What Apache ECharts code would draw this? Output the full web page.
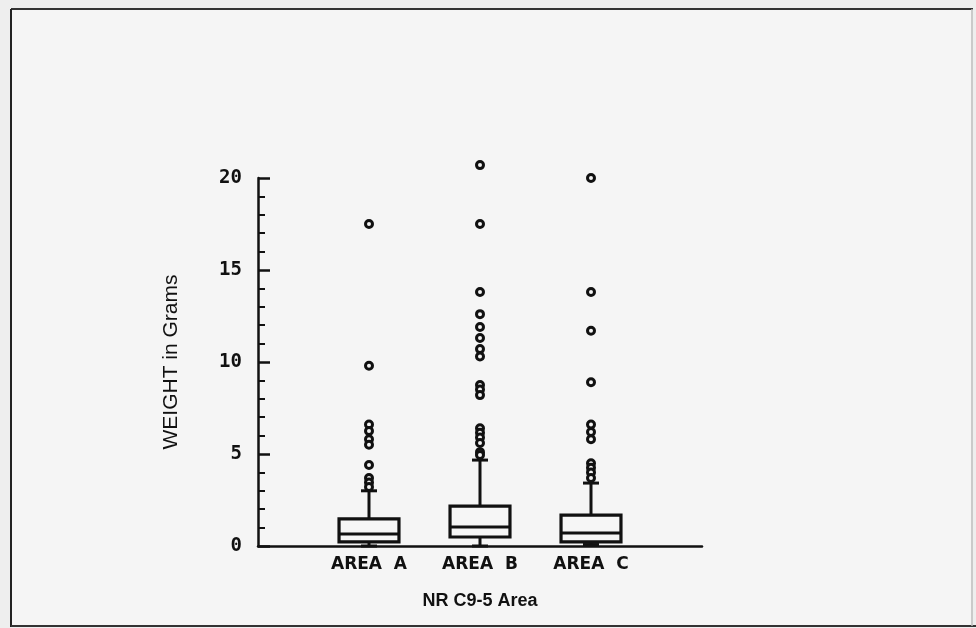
<!DOCTYPE html>
<html>
<head>
    <meta charset="UTF-8">
    <title>NR C9-5 Area weight</title>
    <script type="text/javascript" src="https://cdn.jsdelivr.net/npm/echarts@6/dist/echarts.min.js"></script>
</head>
<body style="margin: 0; background-color: #eeeeee;">
  <div id="main" style="width: 976px; height: 628px;"></div>

  <script>
    // categories (blank slots at both ends keep the boxes at 1, 2, 3 on a 0..4 axis)
    var categories = ['', 'AREA  A', 'AREA  B', 'AREA  C', ''];

    // box stats: [category index, low whisker, Q1, median, Q3, high whisker]
    var boxA = [1, 0, 0.22, 0.65, 1.47, 3.0];
    var boxB = [2, 0, 0.49, 1.03, 2.17, 4.67];
    var boxC = [3, 0.08, 0.22, 0.71, 1.68, 3.42];

    // outliers
    var outA = [17.5, 9.8, 6.6, 6.25, 5.8, 5.5, 4.4, 3.7, 3.45, 3.2];
    var outB = [20.7, 17.5, 13.8, 12.6, 11.9, 11.3, 10.7, 10.3, 8.75, 8.5, 8.2,
                6.4, 6.15, 5.9, 5.6, 5.1, 4.95];
    var outC = [20.0, 13.8, 11.7, 8.9, 6.6, 6.2, 5.8, 4.5, 4.25, 4.0, 3.7];

    var yTicks = { min: 0, max: 20, interval: 5 };

    var ink = '#111';

    function toPoints(idx, list) {
        return list.map(function (v) { return [idx, v]; });
    }
    var outliers = [].concat(toPoints(1, outA), toPoints(2, outB), toPoints(3, outC));

    function renderBox(params, api) {
        var x = api.value(0);
        var pLow = api.coord([x, api.value(1)]);
        var pQ1 = api.coord([x, api.value(2)]);
        var pMed = api.coord([x, api.value(3)]);
        var pQ3 = api.coord([x, api.value(4)]);
        var pHigh = api.coord([x, api.value(5)]);
        var halfW = api.size([1, 0])[0] * 0.27;
        var capW = 8;
        var cx = pMed[0];
        var st = { stroke: ink, lineWidth: 3, fill: null };
        return {
            type: 'group',
            children: [
                { type: 'line', shape: { x1: cx, y1: pHigh[1], x2: cx, y2: pQ3[1] }, style: st },
                { type: 'line', shape: { x1: cx, y1: pQ1[1], x2: cx, y2: pLow[1] }, style: st },
                { type: 'line', shape: { x1: cx - capW, y1: pHigh[1], x2: cx + capW, y2: pHigh[1] }, style: st },
                { type: 'line', shape: { x1: cx - capW, y1: pLow[1], x2: cx + capW, y2: pLow[1] }, style: st },
                { type: 'rect', shape: { x: cx - halfW, y: pQ3[1], width: halfW * 2, height: pQ1[1] - pQ3[1] },
                  style: { stroke: ink, lineWidth: 3.2, fill: '#f6f6f6' } },
                { type: 'line', shape: { x1: cx - halfW, y1: pMed[1], x2: cx + halfW, y2: pMed[1] }, style: st }
            ]
        };
    }

    var chart = echarts.init(document.getElementById('main'), null, {renderer: 'canvas'});

    chart.setOption({
        animation: false,
        backgroundColor: '#eeeeee',
        graphic: [
            { type: 'rect', z: -10, shape: { x: 11, y: 9, width: 962, height: 617 },
              style: { fill: '#f5f5f5', stroke: null } },
            { type: 'line', z: -9, shape: { x1: 11, y1: 9, x2: 973, y2: 9 }, style: { stroke: '#333', lineWidth: 2 } },
            { type: 'line', z: -9, shape: { x1: 11, y1: 9, x2: 11, y2: 627 }, style: { stroke: '#222', lineWidth: 2 } },
            { type: 'line', z: -9, shape: { x1: 11, y1: 626, x2: 976, y2: 626 }, style: { stroke: '#333', lineWidth: 2 } },
            { type: 'line', z: -9, shape: { x1: 972, y1: 9, x2: 972, y2: 626 }, style: { stroke: '#bbb', lineWidth: 1.5 } }
        ],
        grid: { left: 258, right: 274, top: 178, bottom: 82 },
        xAxis: {
            type: 'category',
            data: categories,
            boundaryGap: false,
            name: 'NR C9-5 Area',
            nameLocation: 'middle',
            nameGap: 46,
            nameTextStyle: { fontFamily: '"Liberation Sans", Arial, sans-serif', fontWeight: 'bold', fontSize: 18, color: ink },
            axisLine: { lineStyle: { color: ink, width: 2.5 } },
            axisTick: { show: false },
            axisLabel: {
                interval: 0,
                margin: 10,
                fontFamily: '"DejaVu Sans", sans-serif',
                fontWeight: 'bold',
                fontSize: 17,
                color: ink
            },
            splitLine: { show: false }
        },
        yAxis: {
            type: 'value',
            min: yTicks.min,
            max: yTicks.max,
            interval: yTicks.interval,
            name: 'WEIGHT in Grams',
            nameLocation: 'middle',
            nameGap: 76,
            nameTextStyle: { fontFamily: '"Liberation Sans", Arial, sans-serif', fontSize: 21, color: ink },
            axisLine: { show: true, lineStyle: { color: ink, width: 2.5 } },
            axisTick: { show: true, inside: true, length: 12, lineStyle: { color: ink, width: 2.5 } },
            minorTick: { show: true, splitNumber: 5, length: 7, lineStyle: { color: ink, width: 2 } },
            axisLabel: {
                margin: 16,
                fontFamily: '"DejaVu Sans Mono", monospace',
                fontWeight: 'bold',
                fontSize: 19,
                color: ink
            },
            splitLine: { show: false }
        },
        series: [
            {
                type: 'custom',
                renderItem: renderBox,
                encode: { x: 0, y: [1, 2, 3, 4, 5] },
                data: [boxA, boxB, boxC],
                clip: false,
                z: 2
            },
            {
                type: 'scatter',
                data: outliers,
                clip: false,
                symbol: 'circle',
                symbolSize: 7,
                itemStyle: { color: '#f4f4f4', borderColor: ink, borderWidth: 3, opacity: 1 },
                z: 3
            }
        ]
    });
</script>

</body>
</html>
